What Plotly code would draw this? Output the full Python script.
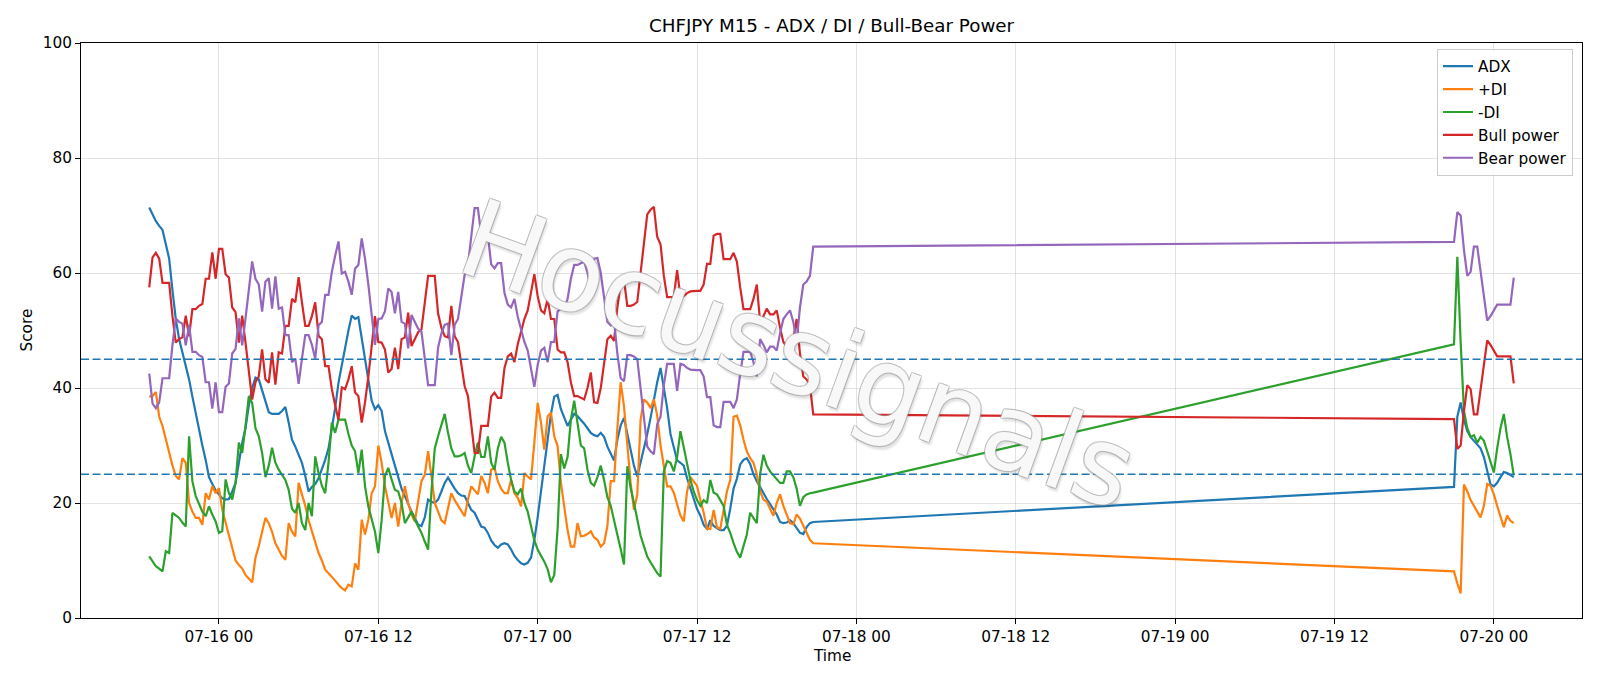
import pandas as pd
import plotly.graph_objects as go

# ---- time axis: 15-minute bars, Friday session then Sunday re-open ----
FRI_START = "2026-07-15 18:45"
FRI_BARS = 201
SUN_START = "2026-07-19 21:00"
SUN_BARS = 19
BAR = "15min"

TITLE = "CHFJPY M15 - ADX / DI / Bull-Bear Power"
THRESHOLDS = [45, 25]
Y_TICKS = [0, 20, 40, 60, 80, 100]

# ---- series values (Friday bars followed by Sunday bars) ----
adx = [71.4, 70.2, 69.0, 68.2, 67.5, 65.0, 62.5, 57.0, 52.0, 48.5,
       46.2, 43.8, 41.5, 38.5, 35.5, 33.0, 30.0, 27.5, 24.5, 23.3,
       22.2, 21.5, 20.8, 20.6, 20.7, 22.0, 23.5, 27.0, 30.5, 33.0,
       37.0, 40.0, 41.8, 41.5, 39.5, 37.5, 35.8, 35.5, 35.5, 35.5,
       36.0, 36.7, 34.0, 31.0, 29.8, 28.3, 27.0, 24.7, 22.0, 22.8,
       23.3, 24.3, 25.8, 27.5, 29.5, 33.0, 36.5, 40.9, 44.0, 47.5,
       50.0, 52.6, 52.0, 52.3, 48.5, 45.0, 41.0, 37.8, 36.3, 37.0,
       36.0, 32.5, 30.5, 28.5, 26.4, 24.5, 22.5, 21.2, 19.8, 18.5,
       17.4, 16.2, 16.0, 17.5, 20.6, 20.2, 20.0, 20.6, 22.0, 23.5,
       24.4, 23.4, 22.5, 21.7, 21.3, 21.2, 20.0, 18.8, 18.3, 17.0,
       15.9, 15.7, 14.8, 13.5, 12.7, 12.2, 12.8, 13.0, 12.8, 11.9,
       10.8, 10.1, 9.5, 9.3, 9.6, 10.5, 13.6, 17.5, 22.0, 27.0,
       32.0, 35.5, 38.5, 38.8, 36.3, 34.8, 33.4, 34.5, 35.5, 35.1,
       34.5, 33.8, 33.0, 32.2, 31.8, 31.6, 32.2, 31.5, 29.8, 28.5,
       27.4, 31.0, 33.5, 34.8, 32.0, 29.0, 26.5, 24.6, 27.0, 29.5,
       32.0, 34.8, 38.0, 41.0, 43.5, 40.2, 36.5, 32.0, 29.5, 27.4,
       27.0, 26.5, 24.3, 22.5, 20.6, 19.0, 17.8, 16.2, 15.5, 17.0,
       16.0, 15.6, 15.3, 15.3, 16.0, 19.0, 22.5, 24.2, 26.7, 27.5,
       27.8, 26.8, 25.0, 23.8, 22.7, 21.7, 20.7, 19.8, 18.9, 18.0,
       16.7, 16.5, 16.6, 17.0, 16.5, 15.7, 14.8, 14.6, 15.8, 16.5,
       16.7,
       22.8, 35.0, 37.5, 34.5, 32.5, 31.5, 30.8, 30.2, 29.5, 28.0,
       25.5, 23.2, 22.9, 23.5, 24.5, 25.4, 25.2, 24.8, 24.5]

plus_di = [38.5, 38.6, 39.3, 35.0, 33.4, 31.0, 29.0, 26.5, 24.7, 24.1,
           27.8, 27.0, 20.0, 18.5, 17.4, 17.4, 16.2, 21.7, 20.6, 22.9,
           21.7, 22.6, 18.8, 16.5, 14.2, 12.0, 10.0, 9.2, 8.6, 7.5,
           6.9, 6.2, 10.5, 12.5, 15.0, 17.4, 16.5, 15.0, 13.0, 11.8,
           10.8, 10.1, 16.5, 15.0, 14.2, 23.5, 21.5, 19.5, 17.0, 15.0,
           13.0, 11.3, 10.0, 8.4, 7.8, 7.2, 6.5, 5.8, 5.2, 4.8,
           5.8, 5.5, 9.5, 8.4, 17.1, 14.5, 17.1, 21.7, 22.9, 30.0,
           27.0, 22.9, 20.0, 17.4, 20.0, 15.9, 20.0, 22.9, 20.0, 18.0,
           16.8, 20.0, 23.8, 24.9, 29.0, 24.7, 20.0, 18.5, 17.0, 16.5,
           19.0, 21.7, 20.5, 19.5, 18.5, 17.7, 20.6, 22.9, 22.2, 21.5,
           24.7, 23.5, 21.7, 25.8, 26.1, 23.8, 22.5, 21.7, 21.7, 24.1,
           21.7, 20.9, 19.4, 25.2, 24.6, 24.1, 30.5, 37.4, 34.0, 29.3,
           35.1, 35.7, 31.6, 29.9, 23.5, 19.4, 15.3, 12.4, 12.4, 16.5,
           14.2, 14.3, 14.6, 15.1, 14.0, 13.6, 12.4, 13.0, 16.0, 23.8,
           23.8, 33.0, 41.0, 36.8, 30.0, 23.5, 18.8, 21.5, 34.5, 38.0,
           37.5, 36.5, 38.0, 35.2, 30.0, 26.0, 22.9, 22.9, 21.8, 19.8,
           17.8, 16.8, 22.0, 24.5, 23.8, 23.0, 20.5, 18.3, 15.5, 15.5,
           18.8, 15.8, 15.5, 19.0, 22.0, 24.0, 35.0, 35.2, 33.5, 31.0,
           29.0, 27.8, 27.0, 25.0, 22.0, 20.6, 20.2, 19.0, 17.8, 20.0,
           21.5, 19.5, 18.0, 16.5, 16.3, 18.0, 17.3, 16.0, 14.6, 13.6,
           13.0,
           8.1, 6.0, 4.3, 23.2, 22.0, 20.5, 19.5, 18.5, 17.5, 19.5,
           23.3, 23.0, 21.5, 19.5, 17.5, 15.8, 17.8, 16.9, 16.5]

minus_di = [10.7, 9.8, 9.0, 8.6, 8.1, 11.6, 11.3, 18.3, 17.9, 17.4,
            16.6, 15.9, 31.6, 23.8, 21.2, 19.7, 18.5, 17.7, 19.4, 18.0,
            16.8, 14.8, 15.1, 24.1, 21.7, 20.6, 23.5, 30.5, 28.7, 33.4,
            38.6, 37.4, 33.0, 31.6, 28.7, 24.5, 26.5, 29.6, 27.0, 25.8,
            25.0, 24.0, 22.3, 19.0, 18.3, 20.0, 16.5, 15.3, 20.0, 17.7,
            28.1, 25.2, 23.0, 21.7, 27.0, 34.0, 32.2, 34.5, 34.5, 34.5,
            32.0, 30.0, 29.0, 25.2, 29.3, 22.9, 19.4, 17.0, 15.0, 11.3,
            17.0, 24.7, 26.1, 24.1, 22.3, 22.0, 20.0, 16.5, 17.5, 18.5,
            17.1, 16.0, 14.8, 13.3, 11.9, 22.0, 29.5, 31.6, 33.8, 35.5,
            32.2, 29.5, 28.1, 28.1, 28.3, 28.7, 26.5, 25.2, 28.1, 30.5,
            28.0, 28.0, 31.6, 27.0, 25.8, 29.5, 31.5, 30.5, 27.0, 24.0,
            22.0, 21.5, 22.5, 20.0, 18.5, 16.0, 13.5, 11.9, 10.9, 9.8,
            8.5, 6.2, 7.5, 15.5, 28.5, 26.0, 28.0, 34.5, 37.8, 34.0,
            30.0, 29.5, 25.8, 23.5, 23.0, 24.5, 26.5, 24.0, 21.0, 19.5,
            16.7, 14.5, 12.0, 9.3, 26.4, 22.6, 20.0, 17.0, 14.3, 12.5,
            10.7, 9.7, 8.7, 7.8, 7.2, 25.5, 27.3, 27.0, 25.5, 28.0,
            32.5, 29.5, 26.5, 24.0, 22.0, 20.5, 19.5, 20.5, 20.0, 24.0,
            21.8, 21.5, 20.5, 19.5, 16.2, 14.8, 13.0, 11.5, 10.5, 12.5,
            14.5, 18.3, 17.5, 16.5, 25.0, 28.4, 26.5, 25.5, 24.8, 24.2,
            23.5, 23.5, 25.5, 25.5, 24.5, 22.5, 19.5, 21.0, 21.5, 21.7,
            21.8,
            47.6, 62.8, 48.0, 36.0, 33.0, 31.5, 31.8, 30.5, 31.5, 30.8,
            29.0, 27.2, 25.3, 29.5, 33.0, 35.5, 31.5, 28.5, 24.8]

bull_power = [57.5, 62.7, 63.5, 62.5, 58.3, 58.3, 58.3, 52.5, 47.9, 48.5,
              48.8, 52.6, 49.0, 53.7, 53.7, 54.3, 54.6, 59.0, 59.0, 63.6,
              59.0, 64.2, 64.2, 59.8, 59.2, 54.0, 53.2, 47.9, 52.6, 47.9,
              43.3, 38.0, 41.0, 42.0, 46.7, 41.5, 40.9, 46.2, 40.6, 46.2,
              46.0, 50.8, 50.8, 55.5, 54.9, 59.3, 54.9, 50.8, 50.8, 52.5,
              54.9, 49.1, 48.5, 43.8, 43.8, 39.8, 37.0, 34.5, 40.1, 39.8,
              41.5, 43.8, 39.2, 38.6, 34.0, 37.5, 42.0, 47.0, 52.5, 48.0,
              47.9, 46.7, 42.7, 43.3, 47.0, 43.3, 48.5, 48.8, 53.1, 47.3,
              48.5, 49.7, 50.2, 55.0, 59.5, 59.5, 59.5, 53.0, 50.5, 49.0,
              48.8, 54.3, 49.0, 48.0, 44.0, 40.3, 38.6, 33.5, 28.7, 28.7,
              33.4, 33.4, 33.4, 38.5, 39.2, 38.3, 38.3, 43.5, 45.5, 46.0,
              44.5, 47.6, 50.0, 52.0, 53.5, 56.5, 59.8, 56.0, 53.5, 53.0,
              55.5, 52.0, 52.0, 46.7, 46.2, 46.2, 44.5, 41.0, 38.6, 38.6,
              38.3, 38.0, 40.0, 42.7, 37.5, 37.4, 40.0, 44.0, 48.5, 49.1,
              48.2, 54.0, 58.3, 58.8, 54.3, 54.3, 54.5, 55.0, 60.0, 66.0,
              70.2, 71.0, 71.5, 66.3, 65.0, 59.5, 55.8, 55.8, 55.8, 60.5,
              55.8, 56.0, 56.5, 56.8, 56.9, 56.9, 56.9, 58.0, 61.6, 61.6,
              66.5, 66.8, 66.8, 62.4, 62.4, 62.4, 63.5, 62.0, 57.5, 53.7,
              53.7, 53.7, 55.5, 58.0, 51.5, 52.5, 53.8, 52.8, 52.8, 53.5,
              50.5, 48.0, 47.2, 46.5, 48.5, 52.0, 46.0, 42.0, 41.5, 40.5,
              35.4,
              34.6, 29.4, 30.0, 36.0, 40.5, 39.8, 35.4, 35.4, 40.0, 44.0,
              48.3, 47.5, 46.5, 45.5, 45.5, 45.5, 45.5, 45.5, 40.8]

bear_power = [42.5, 37.3, 36.5, 37.5, 41.7, 41.7, 41.7, 47.5, 52.1, 51.5,
              51.2, 47.4, 51.0, 46.3, 46.3, 45.7, 45.4, 41.0, 41.0, 36.4,
              41.0, 35.8, 35.8, 40.2, 40.8, 46.0, 46.8, 52.1, 47.4, 52.1,
              56.7, 62.0, 59.0, 58.0, 53.3, 58.5, 59.1, 53.8, 59.4, 53.8,
              54.0, 49.2, 49.2, 44.5, 45.1, 40.7, 45.1, 49.2, 49.2, 47.5,
              45.1, 50.9, 51.5, 56.2, 56.2, 60.2, 63.0, 65.5, 59.9, 60.2,
              58.5, 56.2, 60.8, 61.4, 66.0, 62.5, 58.0, 53.0, 47.5, 52.0,
              52.1, 53.3, 57.3, 56.7, 53.0, 56.7, 51.5, 51.2, 46.9, 52.7,
              51.5, 50.3, 49.8, 45.0, 40.5, 40.5, 40.5, 47.0, 49.5, 51.0,
              51.2, 45.7, 51.0, 52.0, 56.0, 59.7, 61.4, 66.5, 71.3, 71.3,
              66.6, 66.6, 66.6, 61.5, 60.8, 61.7, 61.7, 56.5, 54.5, 54.0,
              55.5, 52.4, 50.0, 48.0, 46.5, 43.5, 40.2, 44.0, 46.5, 47.0,
              44.5, 48.0, 48.0, 53.3, 53.8, 53.8, 55.5, 59.0, 61.4, 61.4,
              61.7, 62.0, 60.0, 57.3, 62.5, 62.6, 60.0, 56.0, 51.5, 50.9,
              51.8, 46.0, 41.7, 41.2, 45.7, 45.7, 45.5, 45.0, 40.0, 34.0,
              29.8, 29.0, 28.5, 33.7, 35.0, 40.5, 44.2, 44.2, 44.2, 39.5,
              44.2, 44.0, 43.5, 43.2, 43.1, 43.1, 43.1, 42.0, 38.4, 38.4,
              33.5, 33.2, 33.2, 37.6, 37.6, 37.6, 36.5, 38.0, 42.5, 46.3,
              46.3, 46.3, 44.5, 42.0, 48.5, 47.5, 46.2, 47.2, 47.2, 46.5,
              49.5, 52.0, 52.8, 53.5, 51.5, 48.0, 54.0, 58.0, 58.5, 59.5,
              64.6,
              65.4, 70.6, 70.0, 64.0, 59.5, 60.2, 64.6, 64.6, 60.0, 56.0,
              51.7, 52.5, 53.5, 54.5, 54.5, 54.5, 54.5, 54.5, 59.2]

SERIES = [
    ("ADX", adx, "#1f77b4"),
    ("+DI", plus_di, "#ff7f0e"),
    ("-DI", minus_di, "#2ca02c"),
    ("Bull power", bull_power, "#d62728"),
    ("Bear power", bear_power, "#9467bd"),
]

times = list(pd.date_range(FRI_START, periods=FRI_BARS, freq=BAR)) + \
        list(pd.date_range(SUN_START, periods=SUN_BARS, freq=BAR))
t0, t1 = times[0], times[-1]
pad = (t1 - t0) * 0.05

fig = go.Figure()
for name, vals, color in SERIES:
    fig.add_trace(go.Scatter(
        x=times, y=vals, mode="lines", name=name,
        line=dict(color=color, width=2.2),
    ))

for lvl in THRESHOLDS:
    fig.add_shape(type="line", xref="paper", x0=0, x1=1, yref="y", y0=lvl, y1=lvl,
                  line=dict(color="#1f77b4", width=1.5, dash="8px,3.5px"))

FONT = "DejaVu Sans"
FS = 15.3
axis_common = dict(
    showgrid=True, gridcolor="rgba(176,176,176,0.35)", gridwidth=1,
    showline=True, linecolor="black", linewidth=1.1, mirror=True,
    ticks="outside", ticklen=5, tickcolor="black", tickwidth=1.1,
    zeroline=False, tickfont=dict(family=FONT, size=FS, color="black"),
)

OUT = "rgba(160,160,160,0.55)"
wm_shadow = ", ".join([
    f"-1px -1px 0 {OUT}", f"1px -1px 0 {OUT}", f"-1px 1px 0 {OUT}", f"1px 1px 0 {OUT}",
    "3px 3px 2px rgba(0,0,0,0.12)",
])

fig.update_layout(
    width=1600, height=686, autosize=False,
    margin=dict(l=81, r=18, t=43, b=68),
    paper_bgcolor="white", plot_bgcolor="white",
    font=dict(family=FONT, size=FS, color="black"),
    title=dict(text=TITLE, x=0.5, xref="paper", xanchor="center",
               y=1 - 26 / 686, yref="container", yanchor="middle",
               font=dict(family=FONT, size=18.3, color="black")),
    xaxis=dict(type="date", range=[t0 - pad, t1 + pad],
               tick0="2026-07-16 00:00", dtick=12 * 3600 * 1000,
               tickformat="%m-%d %H", **axis_common),
    yaxis=dict(range=[0, 100], tickvals=Y_TICKS, **axis_common),
    showlegend=True,
    legend=dict(x=0.994, xanchor="right", y=0.99, yanchor="top",
                bgcolor="rgba(255,255,255,0.8)", bordercolor="#cccccc",
                borderwidth=1, font=dict(family=FONT, size=FS, color="black")),
    annotations=[
        dict(text="Time", xref="paper", yref="paper", x=0.5, y=(618 - 656) / 575,
             xanchor="center", yanchor="middle", showarrow=False,
             font=dict(family=FONT, size=FS, color="black")),
        dict(text="Score", xref="paper", yref="paper", x=(26 - 81) / 1501, y=0.5,
             xanchor="center", yanchor="middle", textangle=-90, showarrow=False,
             font=dict(family=FONT, size=FS, color="black")),
        dict(text="Hocussignals", xref="paper", yref="paper",
             x=(798 - 81) / 1501, y=(618 - 354) / 575,
             xanchor="center", yanchor="middle", textangle=20, showarrow=False,
             font=dict(family=FONT, size=108, color="rgba(255,255,255,0.92)",
                       shadow=wm_shadow)),
    ],
)

fig.write_html("out.html")
